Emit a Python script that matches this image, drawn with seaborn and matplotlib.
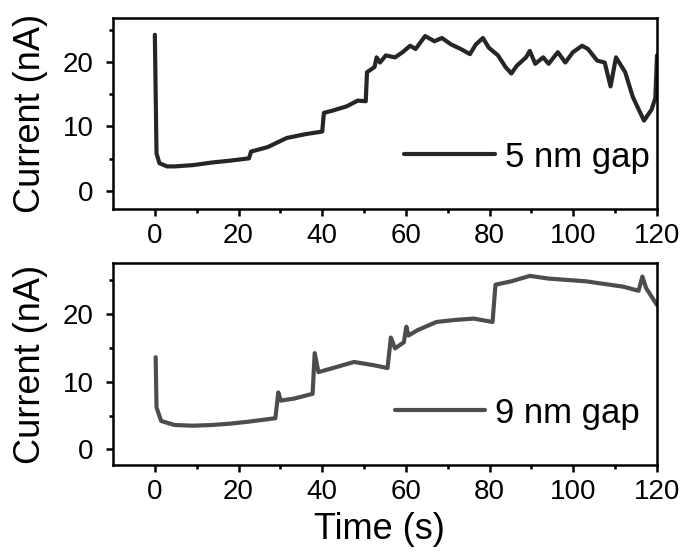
import numpy as np
import pandas as pd
import seaborn as sns
import matplotlib.pyplot as plt

# 5 nm gap trace
t5 = [0, 0.4, 1.1, 2.9, 4.7, 9.1, 13.6, 18.1, 22.5, 23.0, 27.0, 31.5, 36.0, 40.0, 40.4,
      42.2, 45.8, 48.5, 50.4, 50.7, 52.5, 53.0, 53.8, 55.2, 57.4, 59.2, 61.0, 62.3, 64.6,
      66.8, 68.6, 70.8, 73.1, 75.3, 76.7, 78.4, 79.8, 82.0, 83.8, 85.2, 86.5, 88.7, 89.6,
      90.9, 92.8, 94.1, 96.3, 98.1, 99.9, 102.1, 103.5, 105.7, 107.5, 108.9, 110.2, 112.4,
      114.2, 116.0, 116.9, 118.7, 119.6, 120.0]
i5 = [24.2, 5.8, 4.3, 3.8, 3.8, 4.0, 4.4, 4.7, 5.05, 6.1, 6.8, 8.2, 8.8, 9.2, 12.1,
      12.4, 13.1, 14.0, 13.9, 18.4, 19.2, 20.7, 19.9, 21.0, 20.7, 21.5, 22.5, 22.0, 24.0,
      23.2, 23.7, 22.7, 22.0, 21.2, 22.7, 23.7, 22.2, 21.0, 19.2, 18.2, 19.4, 20.7, 21.7,
      19.7, 20.7, 19.7, 21.5, 19.9, 21.5, 22.5, 22.0, 20.2, 19.9, 16.2, 20.7, 18.4,
      14.6, 12.1, 10.9, 12.6, 14.4, 21.0]

# 9 nm gap trace
t9 = [0.2, 0.4, 1.5, 4.7, 9.1, 13.6, 18.0, 22.5, 28.8, 29.5, 30.1, 33.3, 37.7, 38.2,
      39.1, 43.1, 47.6, 52.5, 55.6, 56.4, 57.4, 59.5, 60.1, 60.6, 62.8, 67.3, 71.7, 76.2,
      80.7, 81.4, 85.2, 89.6, 94.1, 98.6, 103.0, 107.5, 112.0, 115.6, 116.5, 117.4, 120.0]
i9 = [13.6, 6.2, 4.2, 3.6, 3.5, 3.6, 3.8, 4.1, 4.6, 8.4, 7.2, 7.5, 8.2, 14.2,
      11.4, 12.1, 12.9, 12.4, 12.0, 16.5, 14.9, 15.8, 18.1, 16.8, 17.6, 18.8, 19.1, 19.3,
      18.8, 24.3, 24.8, 25.6, 25.2, 25.0, 24.8, 24.4, 24.0, 23.4, 25.5, 23.8, 21.3]

df5 = pd.DataFrame({'Time (s)': t5, 'Current (nA)': i5})
df9 = pd.DataFrame({'Time (s)': t9, 'Current (nA)': i9})

sns.set_style('ticks')
plt.rcParams['font.family'] = ['Liberation Sans', 'DejaVu Sans']
plt.rcParams['text.color'] = 'black'
plt.rcParams['axes.labelcolor'] = 'black'

fig = plt.figure(figsize=(6.85, 5.55), dpi=100)
# pixel boxes: top 113..657 x 18..209, bottom 113..657 x 263..465
ax1 = fig.add_axes([113 / 685, 1 - 209 / 555, 544 / 685, 191 / 555])
ax2 = fig.add_axes([113 / 685, 1 - 465 / 555, 544 / 685, 202 / 555])

sns.lineplot(data=df5, x='Time (s)', y='Current (nA)', ax=ax1, color='#262626',
             linewidth=3, label='5 nm gap', sort=False)
sns.lineplot(data=df9, x='Time (s)', y='Current (nA)', ax=ax2, color='#4d4d4d',
             linewidth=3, label='9 nm gap', sort=False)

ax1.set_ylim(-2.8, 26.8)
ax2.set_ylim(-2.3, 27.5)

for ax in (ax1, ax2):
    ax.set_xlim(-10, 120)
    ax.set_xticks([0, 20, 40, 60, 80, 100, 120])
    ax.set_xticks(np.arange(10, 120, 20), minor=True)
    ax.set_yticks([0, 10, 20])
    ax.set_yticks([5, 15, 25], minor=True)
    ax.tick_params(axis='both', which='major', direction='out', length=5, width=1.8,
                   labelsize=20, colors='black')
    ax.tick_params(axis='x', which='major', pad=5)
    ax.tick_params(axis='y', which='major', pad=9)
    ax.tick_params(axis='both', which='minor', direction='out', length=3, width=1.8,
                   colors='black')
    for s in ax.spines.values():
        s.set_visible(True)
        s.set_linewidth(1.8)
        s.set_color('black')
    ax.set_ylabel('Current (nA)', fontsize=26)
    ax.yaxis.set_label_coords(-0.12, 0.5)

ax1.legend(loc='center right', bbox_to_anchor=(0.987, 0.272), frameon=False, fontsize=25,
           handlelength=2.6, handletextpad=0.3, borderpad=0, borderaxespad=0)
ax2.legend(loc='center right', bbox_to_anchor=(0.969, 0.257), frameon=False, fontsize=25,
           handlelength=2.6, handletextpad=0.3, borderpad=0, borderaxespad=0)

ax1.set_xlabel('')
ax2.set_xlabel('Time (s)', fontsize=26)
ax2.xaxis.set_label_coords(0.49, -0.233)

fig.savefig('out.png', dpi=100)
